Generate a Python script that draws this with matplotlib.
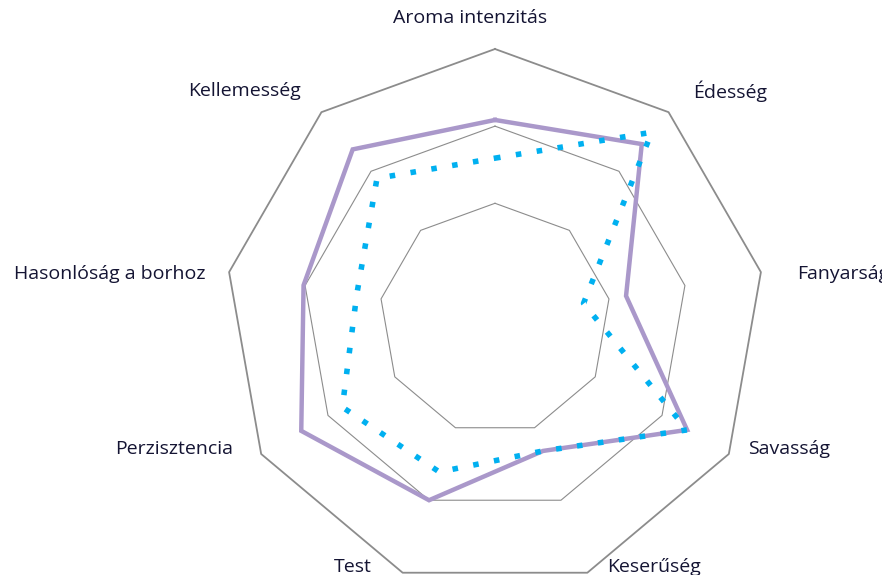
import numpy as np
import matplotlib
matplotlib.use('Agg')
import matplotlib.pyplot as plt

plt.rcParams['font.family'] = ['Open Sans', 'DejaVu Sans']

# radar categories (clockwise from the top)
categories = ['Aroma intenzitás', 'Édesség', 'Fanyarság', 'Savasság', 'Keserűség',
              'Test', 'Perzisztencia', 'Hasonlóság a borhoz', 'Kellemesség']

# series values
purple_vals = [5.16, 5.92, 3.45, 5.75, 3.64, 5.00, 5.80, 5.04, 5.74]
blue_vals = [4.17, 6.32, 2.33, 5.75, 3.64, 4.22, 4.57, 3.64, 4.76]

# grid rings and axis maximum
rings = [3, 5, 7]
r_max = 7

# label positions in pixels (x, y, ha)
label_pos = [(470, 18, 'center'), (693, 91, 'left'), (797, 274, 'left'),
             (748, 449, 'left'), (607, 567, 'left'), (372, 567, 'right'),
             (233, 449, 'right'), (205, 274, 'right'), (301, 91, 'right')]

W, H = 882, 575
fig = plt.figure(figsize=(W / 100, H / 100), dpi=100)
cx, cy, R = 495, 319, 270
ax = fig.add_axes([(cx - R) / W, (H - cy - R) / H, 2 * R / W, 2 * R / H], projection='polar')
ax.set_theta_offset(np.pi / 2)
ax.set_theta_direction(-1)
ax.set_ylim(0, r_max)
ax.grid(False)
ax.spines['polar'].set_visible(False)
ax.set_xticks([])
ax.set_yticks([])
ax.patch.set_alpha(0)

n = len(categories)
theta = np.linspace(0, 2 * np.pi, n, endpoint=False)
theta_c = np.append(theta, theta[0])

for r in rings:
    outer = r == r_max
    ax.plot(theta_c, [r] * (n + 1), color='#8c8c8c', lw=1.3 if outer else 0.8,
            clip_on=False, zorder=1)

ax.plot(theta_c, purple_vals + purple_vals[:1], color='#AA98CA', lw=3.2,
        solid_joinstyle='miter', clip_on=False, zorder=2)
ax.plot(theta_c, blue_vals + blue_vals[:1], color='#00B0F0', lw=4.0,
        linestyle=(0, (1, 2.8)), dash_capstyle='butt', clip_on=False, zorder=3)

for lab, (x, y, ha) in zip(categories, label_pos):
    fig.text(x / W, 1 - y / H, lab, ha=ha, va='center', fontsize=14, color='#141433')

fig.savefig('out.png', dpi=100)
